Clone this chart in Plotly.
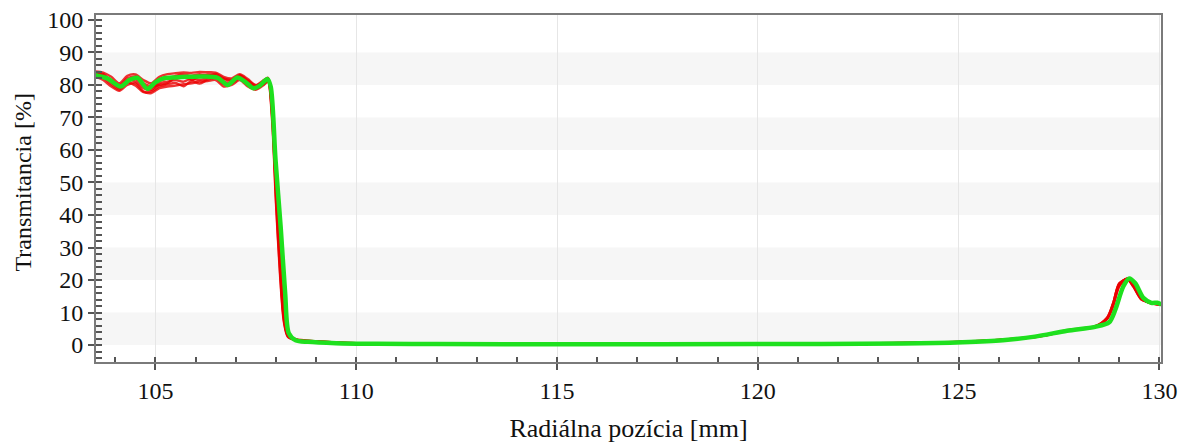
import plotly.graph_objects as go

# ---- data ----
# green (reference) curve
green_x = [103.5, 103.8, 104.13, 104.35, 104.55, 104.8, 105.0, 105.2, 105.5, 105.8, 106.2,
           106.55, 106.8, 107.04, 107.25, 107.44, 107.6, 107.79, 107.87, 107.99, 108.12,
           108.23, 108.32, 108.49, 108.8, 109.5, 110.5, 112.0, 115.0, 120.0, 123.6, 125.1,
           126.1, 126.9, 127.7, 128.4, 128.75, 128.9, 129.1, 129.25, 129.4, 129.6, 129.8,
           129.95, 130.05]
green_y = [83.0, 82.0, 79.5, 81.5, 82.2, 78.8, 80.8, 82.0, 82.3, 82.5, 82.6,
           82.2, 80.0, 82.3, 80.8, 79.0, 79.8, 81.8, 79.5, 57.0, 36.0,
           16.0, 3.7, 1.5, 1.0, 0.6, 0.4, 0.3, 0.25, 0.3, 0.5, 0.9,
           1.5, 2.6, 4.4, 5.6, 7.0, 10.8, 18.0, 20.5, 19.0, 14.5, 13.0,
           13.0, 12.5]

# red (repeated measurements) curves share one x grid
red_x = [103.5, 103.7, 103.9, 104.1, 104.3, 104.5, 104.7, 104.9, 105.1, 105.3, 105.5, 105.7,
         105.9, 106.1, 106.3, 106.5, 106.7, 106.9, 107.1, 107.3, 107.5, 107.7, 107.8, 107.9,
         108.0, 108.1, 108.2, 108.3, 108.5, 109.0, 110.0, 112.0, 115.0, 120.0, 123.0, 125.0,
         126.0, 127.0, 127.7, 128.4, 128.7, 128.85, 129.0, 129.2, 129.35, 129.55, 129.75, 130.05]
red_1 = [84.2, 83.8, 82.5, 80.5, 82.8, 83.2, 81.5, 80.5, 82.5, 83.3, 83.6, 83.8,
         83.7, 84.0, 83.9, 83.8, 82.5, 82.0, 83.3, 81.8, 80.0, 81.5, 82.2, 74.0,
         50.0, 27.0, 9.0, 3.0, 1.8, 1.2, 0.6, 0.4, 0.35, 0.4, 0.6, 1.0,
         1.6, 2.8, 4.6, 5.8, 8.5, 13.0, 19.0, 20.2, 18.0, 14.0, 13.2, 12.5]
red_2 = [82.5, 81.5, 79.5, 78.2, 80.0, 80.5, 78.0, 77.5, 79.0, 79.5, 79.8, 80.2,
         80.5, 81.0, 81.2, 81.5, 79.5, 80.0, 81.5, 79.5, 78.5, 80.0, 81.0, 70.0,
         44.0, 22.0, 7.0, 2.5, 1.5, 1.0, 0.5, 0.3, 0.25, 0.3, 0.5, 0.9,
         1.5, 2.6, 4.4, 5.6, 8.0, 12.0, 18.0, 20.5, 18.5, 14.5, 13.0, 12.4]
red_3 = [83.5, 82.8, 80.8, 79.0, 81.5, 81.0, 79.0, 78.5, 80.5, 81.0, 81.5, 81.0,
         82.0, 81.5, 82.2, 82.8, 81.0, 80.8, 82.5, 80.5, 79.2, 80.6, 81.5, 72.0,
         47.0, 25.0, 8.0, 2.8, 1.6, 1.1, 0.5, 0.35, 0.3, 0.35, 0.55, 0.95,
         1.5, 2.7, 4.5, 5.7, 8.3, 12.5, 18.5, 20.3, 18.2, 14.2, 13.1, 12.5]
red_4 = [84.0, 83.0, 81.5, 79.8, 82.0, 82.5, 80.5, 79.5, 80.0, 80.5, 82.5, 82.8,
         81.5, 82.8, 83.2, 83.0, 81.8, 81.3, 82.8, 81.0, 79.5, 81.0, 82.0, 73.0,
         48.0, 26.0, 8.5, 3.0, 1.7, 1.1, 0.55, 0.4, 0.3, 0.35, 0.55, 0.95,
         1.55, 2.7, 4.5, 5.7, 8.2, 12.8, 18.8, 20.4, 18.3, 14.3, 13.1, 12.4]
red_5 = [83.0, 82.2, 80.2, 78.6, 80.8, 79.8, 77.8, 78.0, 79.6, 80.2, 80.6, 79.6,
         81.2, 80.4, 81.6, 82.2, 80.2, 80.4, 82.0, 80.0, 78.8, 80.3, 81.2, 71.0,
         45.0, 23.0, 7.5, 2.6, 1.6, 1.0, 0.5, 0.3, 0.3, 0.3, 0.5, 0.9,
         1.5, 2.6, 4.4, 5.6, 8.1, 12.2, 18.2, 20.4, 18.4, 14.4, 13.0, 12.4]
red_6 = [83.8, 83.3, 81.0, 79.4, 81.2, 81.8, 79.8, 79.0, 81.2, 82.0, 82.8, 83.2,
         82.8, 83.3, 82.8, 83.4, 82.0, 81.6, 83.0, 81.4, 79.8, 81.2, 82.1, 73.5,
         49.0, 26.5, 8.8, 3.0, 1.7, 1.2, 0.6, 0.4, 0.3, 0.35, 0.55, 1.0,
         1.55, 2.75, 4.55, 5.75, 8.4, 12.9, 18.9, 20.3, 18.1, 14.1, 13.2, 12.5]
red_series = [red_1, red_2, red_3, red_4, red_5, red_6]

x_range = [103.52, 130.04]
y_range = [-5.2, 101.5]
band_edges = [(0, 10), (20, 30), (40, 50), (60, 70), (80, 90)]
x_title = "Radiálna pozícia [mm]"
y_title = "Transmitancia [%]"

fig = go.Figure()
for ys in red_series:
    fig.add_trace(go.Scatter(x=red_x, y=ys, mode="lines",
                             line=dict(color="rgba(235,0,0,0.8)", width=2.4,
                                       shape="spline", smoothing=0.8),
                             showlegend=False, hoverinfo="skip"))
fig.add_trace(go.Scatter(x=green_x, y=green_y, mode="lines",
                         line=dict(color="#1EE01E", width=4.5, shape="spline", smoothing=0.8),
                         showlegend=False))

for lo, hi in band_edges:
    fig.add_shape(type="rect", xref="paper", x0=0, x1=1, yref="y", y0=lo, y1=hi,
                  fillcolor="#F6F6F6", line_width=0, layer="below")

font = dict(family="Liberation Serif, Times New Roman, serif", size=24, color="#111111")
xtitle_font = dict(family="Liberation Serif, Times New Roman, serif", size=26, color="#111111")
fig.update_layout(
    width=1190, height=448,
    margin=dict(l=88, r=37, t=7, b=94),
    paper_bgcolor="white", plot_bgcolor="white",
    font=font,
    showlegend=False,
)
fig.update_xaxes(
    range=x_range, dtick=5, tick0=105, automargin=False, ticklabeloverflow="allow",
    showline=True, linecolor="#7A7A7A", linewidth=2, mirror=True,
    ticks="outside", ticklen=6, tickcolor="#555555", tickwidth=1.5,
    minor=dict(ticks="inside", dtick=1, ticklen=5, tickcolor="#555555", showgrid=False),
    showgrid=True, gridcolor="#E6E6E6", gridwidth=1, zeroline=False,
    title=dict(text=x_title, font=xtitle_font, standoff=16),
    tickfont=font,
)
fig.update_yaxes(
    range=y_range, dtick=10, tick0=0, automargin=False, ticklabeloverflow="allow",
    showline=True, linecolor="#7A7A7A", linewidth=2, mirror=True,
    ticks="outside", ticklen=6, tickcolor="#555555", tickwidth=1.5,
    minor=dict(ticks="inside", dtick=2, ticklen=6, tickcolor="#555555", showgrid=False),
    showgrid=False, zeroline=False,
    tickfont=font,
)
fig.add_annotation(text=y_title, xref="paper", yref="paper", x=0, y=0.5,
                   xanchor="center", yanchor="middle", textangle=-90,
                   xshift=-74, yshift=6, showarrow=False, font=font)

fig.write_html("out.html")
